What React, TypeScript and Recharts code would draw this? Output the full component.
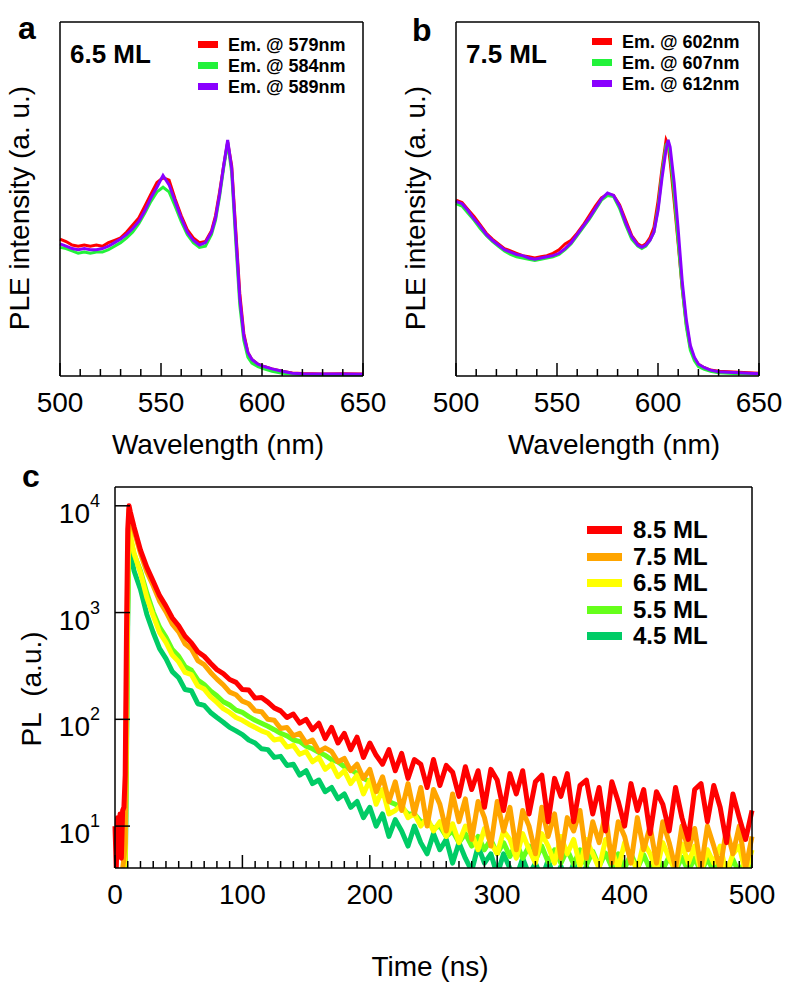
import React from 'react';
import { LineChart, Line, XAxis, YAxis, Legend } from 'recharts';

const FONT = '"Liberation Sans", Arial, Helvetica, sans-serif';

// ---- panel a : PLE, 6.5 ML ----
const wlA = [500, 503, 506, 509, 512, 515, 518, 521, 524, 527, 530, 533, 536, 539, 542, 545, 548, 551, 554, 557, 560, 563, 566, 569, 572, 575, 577, 579, 581, 583, 585, 587, 589, 591, 593, 595, 598, 601, 605, 610, 615, 620, 630, 640, 650];
const pleA579 = [0.58, 0.57, 0.555, 0.55, 0.555, 0.55, 0.555, 0.55, 0.565, 0.575, 0.585, 0.61, 0.64, 0.67, 0.72, 0.77, 0.82, 0.84, 0.83, 0.75, 0.68, 0.62, 0.585, 0.565, 0.57, 0.615, 0.68, 0.78, 0.89, 0.99, 0.89, 0.62, 0.35, 0.18, 0.1, 0.07, 0.05, 0.04, 0.03, 0.02, 0.013, 0.011, 0.009, 0.01, 0.008];
const pleA584 = [0.545, 0.54, 0.53, 0.52, 0.525, 0.52, 0.525, 0.525, 0.535, 0.55, 0.565, 0.585, 0.61, 0.645, 0.69, 0.74, 0.78, 0.8, 0.78, 0.72, 0.655, 0.6, 0.565, 0.545, 0.55, 0.6, 0.66, 0.76, 0.88, 0.99, 0.86, 0.57, 0.3, 0.15, 0.08, 0.055, 0.04, 0.03, 0.02, 0.012, 0.008, 0.006, 0.005, 0.005, 0.005];
const pleA589 = [0.56, 0.55, 0.54, 0.535, 0.54, 0.535, 0.535, 0.54, 0.55, 0.565, 0.58, 0.6, 0.625, 0.655, 0.7, 0.755, 0.8, 0.85, 0.81, 0.74, 0.67, 0.61, 0.575, 0.555, 0.565, 0.61, 0.67, 0.77, 0.89, 1.0, 0.88, 0.6, 0.33, 0.17, 0.1, 0.07, 0.05, 0.04, 0.03, 0.02, 0.012, 0.01, 0.008, 0.008, 0.007];

// ---- panel b : PLE, 7.5 ML ----
const wlB = [500, 503, 506, 509, 512, 515, 518, 521, 524, 527, 530, 533, 536, 539, 542, 545, 548, 551, 554, 557, 560, 563, 566, 569, 572, 575, 578, 581, 584, 587, 590, 592, 594, 596, 598, 600, 602, 604, 605, 606, 608, 610, 612, 614, 616, 618, 620, 623, 626, 630, 640, 650];
const pleB602 = [0.745, 0.735, 0.705, 0.675, 0.64, 0.605, 0.58, 0.56, 0.54, 0.53, 0.52, 0.51, 0.505, 0.5, 0.505, 0.51, 0.52, 0.535, 0.56, 0.575, 0.605, 0.64, 0.68, 0.72, 0.755, 0.77, 0.765, 0.725, 0.66, 0.595, 0.56, 0.55, 0.56, 0.585, 0.63, 0.74, 0.88, 1.0, 0.98, 0.91, 0.74, 0.56, 0.37, 0.22, 0.12, 0.075, 0.05, 0.035, 0.025, 0.02, 0.016, 0.012];
const pleB607 = [0.73, 0.72, 0.69, 0.66, 0.625, 0.595, 0.57, 0.55, 0.53, 0.515, 0.505, 0.5, 0.495, 0.49, 0.495, 0.5, 0.505, 0.515, 0.535, 0.56, 0.595, 0.63, 0.665, 0.705, 0.745, 0.765, 0.76, 0.71, 0.64, 0.58, 0.55, 0.54, 0.55, 0.575, 0.61, 0.71, 0.86, 0.98, 0.99, 0.94, 0.77, 0.57, 0.37, 0.21, 0.11, 0.065, 0.04, 0.028, 0.02, 0.014, 0.01, 0.008];
const pleB612 = [0.74, 0.73, 0.7, 0.665, 0.635, 0.6, 0.575, 0.555, 0.535, 0.525, 0.515, 0.51, 0.5, 0.495, 0.5, 0.505, 0.51, 0.52, 0.54, 0.565, 0.6, 0.635, 0.67, 0.71, 0.75, 0.775, 0.765, 0.72, 0.65, 0.59, 0.555, 0.545, 0.555, 0.575, 0.61, 0.7, 0.84, 0.96, 1.0, 0.97, 0.82, 0.62, 0.4, 0.24, 0.13, 0.08, 0.05, 0.035, 0.025, 0.018, 0.014, 0.01];

const wlTicks = [500, 510, 520, 530, 540, 550, 560, 570, 580, 590, 600, 610, 620, 630, 640, 650];
const wlMajor = [500, 550, 600, 650];

// ---- panel c : PL decay ----
const timeNs = [
  0, 1, 2, 3, 4, 5, 6, 7, 8, 9, 10, 11, 12, 15,
  20, 25, 30, 35, 40, 45, 50, 55, 60, 65,
  70, 75, 80, 85, 90, 95, 100, 105, 110, 115,
  120, 125, 130, 135, 140, 145, 150, 155, 160, 165,
  170, 175, 180, 185, 190, 195, 200, 205, 210, 215,
  220, 225, 230, 235, 240, 245, 250, 255, 260, 265,
  270, 275, 280, 285, 290, 295, 300, 305, 310, 315,
  320, 325, 330, 335, 340, 345, 350, 355, 360, 365,
  370, 375, 380, 385, 390, 395, 400, 405, 410, 415,
  420, 425, 430, 435, 440, 445, 450, 455, 460, 465,
  470, 475, 480, 485, 490, 495, 500,
];
const pl85 = [
  10, 4, 12, 6, 13, 5, 14, 15, 30, 600, 6000, 10000, 8800, 6300,
  3850, 2650, 1960, 1440, 1150, 890, 750, 600, 520, 430,
  390, 335, 292, 268, 236, 222, 190, 188, 158, 160,
  145, 128, 120, 104, 112, 92, 100, 80, 92, 66,
  84, 60, 74, 52, 68, 44, 60, 46, 38, 52,
  33, 48, 28, 42, 38, 23, 42, 24, 37, 32,
  19, 36, 22, 33, 15, 34, 27, 14, 31, 20,
  33, 13, 26, 30, 11, 28, 19, 31, 11, 24,
  27, 13, 23, 9, 26, 17, 10, 25, 14, 22,
  8.5, 21, 16, 9, 23, 12, 7.5, 22, 25, 11,
  24, 15, 7, 20, 12, 7.5, 14,
];
const pl75 = [
  3, 3, 3, 3, 3, 3, 4, 5, 7, 150, 3000, 9300, 8200, 5800,
  3600, 2400, 1780, 1280, 1020, 780, 660, 510, 455, 355,
  325, 275, 238, 210, 180, 170, 148, 140, 120, 118,
  100, 98, 82, 84, 70, 74, 60, 64, 50, 54,
  50, 40, 43, 33, 38, 28, 34, 21, 29, 17,
  26, 14, 25, 13, 23, 10, 22, 16, 9, 20,
  11, 18, 7.5, 17, 12, 6.5, 17, 9, 15, 6,
  14, 10, 5.5, 15, 8, 13, 5, 12, 9, 14,
  5, 11, 7, 13, 4.5, 11, 8, 4.5, 12, 6,
  10, 4.5, 11, 7, 4, 10, 6, 9.5, 4, 10,
  6.5, 4, 9.5, 5.5, 10, 4, 8,
];
const pl65 = [
  2, 2, 2, 2, 2, 2, 3, 4, 5, 80, 1500, 7000, 5200, 3600,
  2350, 1380, 930, 650, 525, 400, 345, 275, 262, 205,
  192, 162, 144, 126, 116, 104, 98, 90, 84, 78,
  74, 64, 66, 55, 57, 47, 50, 40, 44, 34,
  38, 29, 33, 25, 30, 20, 27, 16, 22, 13,
  14, 16, 12, 13, 10, 12, 9, 11, 8, 10.5,
  7, 10, 8.5, 6, 9.5, 7, 5.5, 9, 7.5, 5,
  8.5, 6, 4.5, 8.5, 6.5, 4.5, 8, 5.5, 7.5, 4.2,
  7.5, 5.5, 4, 7.5, 6, 4, 7, 5, 3.9, 7,
  5.5, 3.8, 7, 5, 3.8, 6.8, 4.5, 6.5, 3.7, 6,
  4.5, 6.5, 3.6, 5.5, 6.5, 3.6, 6,
];
const pl55 = [
  2, 2, 2, 2, 2, 2, 2, 3, 4, 60, 1200, 6500, 5000, 3500,
  2450, 1520, 1010, 730, 590, 450, 390, 312, 288, 234,
  212, 184, 166, 146, 136, 122, 116, 106, 98, 92,
  86, 80, 74, 70, 64, 62, 56, 53, 49, 46,
  42, 40, 36, 34, 31, 28, 26, 22, 21, 17,
  16, 15, 13, 13, 11, 11, 9.5, 10, 8, 9,
  7, 8.5, 6.5, 8, 6, 7.5, 5.5, 7, 5.2, 7,
  5, 6.5, 4.8, 6.5, 4.6, 6, 4.5, 6, 4.4, 6,
  4.3, 5.8, 4.2, 5.6, 4.1, 5.5, 4, 5.5, 4, 5.4,
  3.9, 5.3, 3.9, 5.2, 3.8, 5.1, 3.8, 5, 3.7, 5,
  3.7, 5, 3.6, 4.9, 3.6, 4.9, 3.6,
];
const pl45 = [
  2, 2, 2, 2, 2, 2, 2, 2, 3, 40, 900, 5000, 3600, 2450,
  1650, 960, 650, 460, 370, 280, 245, 190, 185, 140,
  135, 116, 104, 94, 84, 78, 72, 64, 60, 53,
  52, 44, 45, 37, 38, 30, 33, 25, 27, 21,
  23, 18, 20, 15, 17, 12, 15, 10, 13, 8,
  11.5, 9, 6.5, 10, 7, 5.5, 8.5, 6, 7.5, 4.5,
  7, 5, 3.8, 6.5, 4.5, 5.5, 3.5, 5.5, 4, 3.3,
  5, 3.5, 4.5, 3.2, 4.8, 3.2, 4.2, 3, 4.5, 3,
  4.2, 3, 4, 3, 4.2, 3, 3.8, 3, 4, 3,
  3.6, 3, 3.8, 3, 3.5, 3, 3.8, 3, 3.4, 3,
  3.6, 3, 3.4, 3, 3.5, 3, 3.4,
];

const timeTicks = [0, 10, 20, 30, 40, 50, 60, 70, 80, 90, 100, 110, 120, 130, 140, 150, 160, 170, 180, 190, 200, 210, 220, 230, 240, 250, 260, 270, 280, 290, 300, 310, 320, 330, 340, 350, 360, 370, 380, 390, 400, 410, 420, 430, 440, 450, 460, 470, 480, 490, 500];
const timeMajor = [0, 100, 200, 300, 400, 500];
const plTicks = [10, 100, 1000, 10000];
const plTickExp = ['1', '2', '3', '4'];

const rowsA = wlA.map((wl, i) => ({ wl, e579: pleA579[i], e584: pleA584[i], e589: pleA589[i] }));
const rowsB = wlB.map((wl, i) => ({ wl, e602: pleB602[i], e607: pleB607[i], e612: pleB612[i] }));
const rowsC = timeNs.map((t, i) => ({ t, m85: pl85[i], m75: pl75[i], m65: pl65[i], m55: pl55[i], m45: pl45[i] }));

const frame = { stroke: '#000', strokeWidth: 1.5 };

const makeBottomTick = (major: number[], labelDy: number) => (props: any) => {
  const { x, y, payload } = props;
  const isMajor = major.includes(payload.value);
  return (
    <g>
      <line x1={x} x2={x} y1={y} y2={y - (isMajor ? 13 : 7)} stroke="#000" strokeWidth={1.5} />
      {isMajor && (
        <text x={x} y={y + labelDy} textAnchor="middle" fontSize={28} fontFamily={FONT} fill="#000">
          {payload.value}
        </text>
      )}
    </g>
  );
};

const DecadeTick = (props: any) => {
  const { x, y, payload } = props;
  const exp = plTickExp[plTicks.indexOf(payload.value)];
  return (
    <g>
      <line x1={x} x2={x + 15} y1={y} y2={y} stroke="#000" strokeWidth={1.5} />
      <text x={x - 15} y={y + 17} textAnchor="end" fontSize={28} fontFamily={FONT} fill="#000">
        10
        <tspan dy={-16} fontSize={18}>{exp}</tspan>
      </text>
    </g>
  );
};

const title = (text: string, x: number, y: number, rotate = false) => () => (
  <text
    x={rotate ? 0 : x}
    y={rotate ? 0 : y}
    transform={rotate ? `translate(${x},${y}) rotate(-90)` : undefined}
    textAnchor="middle"
    fontSize={28}
    fontFamily={FONT}
    fill="#000"
    style={{ whiteSpace: 'pre' }}
  >
    {text}
  </text>
);

const corner = (letter: string, lx: number, ly: number, tag?: string, tx?: number, ty?: number) => () => (
  <g fontFamily={FONT} fontWeight="bold" fill="#000">
    <text x={lx} y={ly} fontSize={32}>{letter}</text>
    {tag && <text x={tx} y={ty} fontSize={26}>{tag}</text>}
  </g>
);

const legendRows = (rowH: number, swW: number, swH: number, gap: number, fontSize: number, reverse = false) =>
  (props: any) => {
    const items = reverse ? [...(props.payload || [])].reverse() : props.payload || [];
    return (
      <div>
        {items.map((e: any) => (
          <div key={e.value} style={{ display: 'flex', alignItems: 'center', height: rowH }}>
            <span style={{ display: 'inline-block', width: swW, height: swH, background: e.color, marginRight: gap }} />
            <span style={{ fontFamily: FONT, fontWeight: 'bold', fontSize, lineHeight: 1, color: '#000', whiteSpace: 'nowrap' }}>
              {e.value}
            </span>
          </div>
        ))}
      </div>
    );
  };

type PleSeries = { key: string; name: string; color: string };

const PlePanel = ({
  left, rows, series, letter, letterX, letterY, tag, legendLeft, legendTop,
}: {
  left: number; rows: any[]; series: PleSeries[]; letter: string; letterX: number; letterY: number;
  tag: string; legendLeft: number; legendTop: number;
}) => (
  <div style={{ position: 'absolute', left, top: 0 }}>
    <LineChart width={395} height={470} data={rows} margin={{ top: 21, right: 31, bottom: 93, left: 59 }}>
      <XAxis
        dataKey="wl" type="number" domain={[500, 650]} ticks={wlTicks} interval={0}
        height={1} tickSize={0} tickMargin={0} tickLine={false} axisLine={frame}
        tick={makeBottomTick(wlMajor, 36)}
        label={title('Wavelength (nm)', 218, 454)}
      />
      <XAxis
        xAxisId="top" orientation="top" type="number" domain={[500, 650]} height={1}
        tick={false} tickLine={false} axisLine={frame}
        label={corner(letter, letterX, letterY, tag, 70, 63)}
      />
      <YAxis
        type="number" domain={[0, 1.5]} width={1} tick={false} tickLine={false} axisLine={frame}
        label={title('PLE intensity (a. u.)', 29, 208, true)}
      />
      <YAxis yAxisId="right" orientation="right" type="number" domain={[0, 1.5]} width={1} tick={false} tickLine={false} axisLine={frame} />
      <Legend
        layout="horizontal" verticalAlign="middle" align="center"
        wrapperStyle={{ left: legendLeft, top: legendTop, width: 'auto', height: 'auto' }}
        content={legendRows(21, 20, 7, 10, 18)}
      />
      {series.map((s) => (
        <Line key={s.key} type="linear" dataKey={s.key} name={s.name} stroke={s.color} strokeWidth={3} dot={false} isAnimationActive={false} />
      ))}
    </LineChart>
  </div>
);

const seriesA: PleSeries[] = [
  { key: 'e579', name: 'Em. @ 579nm', color: '#ff0000' },
  { key: 'e584', name: 'Em. @ 584nm', color: '#22f23a' },
  { key: 'e589', name: 'Em. @ 589nm', color: '#8a00ff' },
];
const seriesB: PleSeries[] = [
  { key: 'e602', name: 'Em. @ 602nm', color: '#ff0000' },
  { key: 'e607', name: 'Em. @ 607nm', color: '#22f23a' },
  { key: 'e612', name: 'Em. @ 612nm', color: '#8a00ff' },
];
// drawn thinnest first so 8.5 ML ends on top
const seriesC = [
  { key: 'm45', name: '4.5 ML', color: '#00cc66' },
  { key: 'm55', name: '5.5 ML', color: '#66ff1a' },
  { key: 'm65', name: '6.5 ML', color: '#ffff00' },
  { key: 'm75', name: '7.5 ML', color: '#ffa500' },
  { key: 'm85', name: '8.5 ML', color: '#ff0000' },
];

export default function App() {
  return (
    <div style={{ position: 'absolute', left: 0, top: 0, width: 791, height: 995, background: '#fff', overflow: 'hidden' }}>
      <PlePanel left={0} rows={rowsA} series={seriesA} letter="a" letterX={18} letterY={39} tag="6.5 ML" legendLeft={198} legendTop={34} />
      <PlePanel left={396} rows={rowsB} series={seriesB} letter="b" letterX={16} letterY={41} tag="7.5 ML" legendLeft={196} legendTop={31} />

      <div style={{ position: 'absolute', left: 0, top: 440 }}>
        <LineChart width={791} height={555} data={rowsC} margin={{ top: 46, right: 38, bottom: 126, left: 114 }}>
          <XAxis
            dataKey="t" type="number" domain={[0, 500]} ticks={timeTicks} interval={0}
            height={1} tickSize={0} tickMargin={0} tickLine={false} axisLine={frame}
            tick={makeBottomTick(timeMajor, 36)}
            label={title('Time (ns)', 430, 536)}
          />
          <XAxis
            xAxisId="top" orientation="top" type="number" domain={[0, 500]} height={1}
            tick={false} tickLine={false} axisLine={frame}
            label={corner('c', 22, 47)}
          />
          <YAxis
            type="number" scale="log" domain={[4.05, 15000]} allowDataOverflow ticks={plTicks} interval={0}
            width={1} tickSize={0} tickMargin={0} tickLine={false} axisLine={frame}
            tick={DecadeTick}
            label={title('PL\u00a0 (a.u.)', 41, 249, true)}
          />
          <YAxis yAxisId="right" orientation="right" type="number" domain={[0, 1]} width={1} tick={false} tickLine={false} axisLine={frame} />
          <Legend
            layout="horizontal" verticalAlign="middle" align="center"
            wrapperStyle={{ left: 587, top: 77, width: 'auto', height: 'auto' }}
            content={legendRows(26.5, 35, 8, 11, 24, true)}
          />
          {seriesC.map((s) => (
            <Line key={s.key} type="linear" dataKey={s.key} name={s.name} stroke={s.color} strokeWidth={5} strokeLinejoin="round" dot={false} isAnimationActive={false} />
          ))}
        </LineChart>
      </div>
    </div>
  );
}
